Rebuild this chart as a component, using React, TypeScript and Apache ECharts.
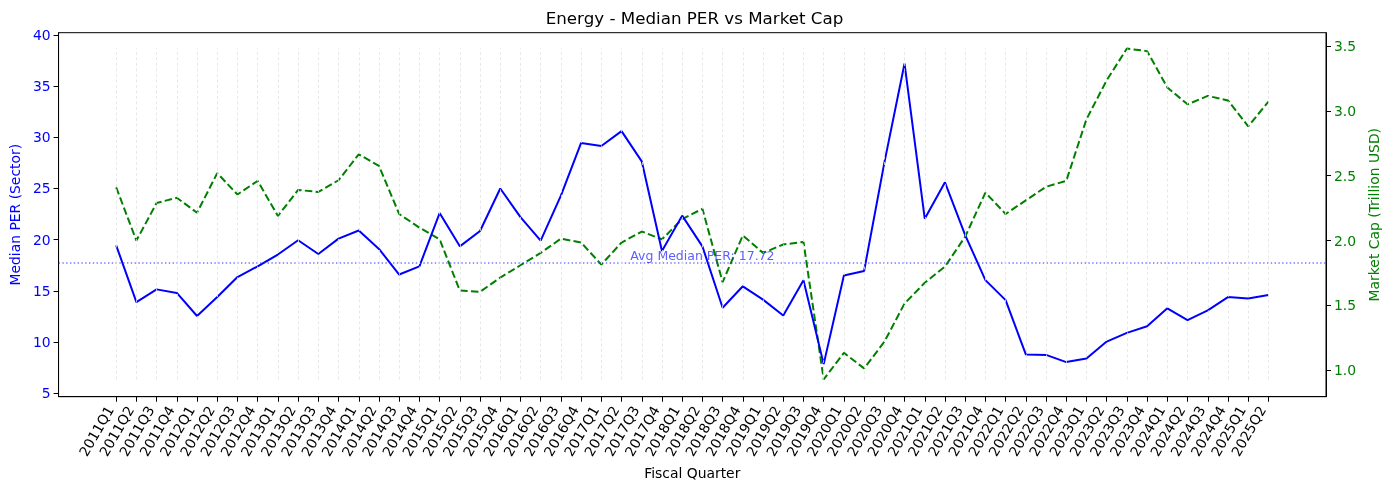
import React, { useEffect, useRef } from "react";
import * as echarts from "echarts";

const quarters: string[] = [];
for (let y = 2011; y <= 2025; y++) {
  for (let q = 1; q <= 4; q++) {
    if (y === 2025 && q > 2) break;
    quarters.push(`${y}Q${q}`);
  }
}

const medianPER = [
  19.45, 13.9, 15.15, 14.8, 12.55, 14.4, 16.35, 17.4, 18.55, 19.95,
  18.6, 20.1, 20.9, 19.1, 16.6, 17.4, 22.6, 19.35, 20.85, 25.0,
  22.2, 19.9, 24.3, 29.45, 29.15, 30.6, 27.65, 18.9, 22.35, 19.35,
  13.35, 15.45, 14.15, 12.6, 16.05, 7.85, 16.5, 16.95, 27.5, 37.2,
  22.05, 25.6, 20.45, 16.05, 14.1, 8.8, 8.75, 8.05, 8.4, 10.05,
  10.9, 11.55, 13.3, 12.15, 13.1, 14.4, 14.25, 14.6,
];

const marketCap = [
  2.41, 2.0, 2.29, 2.33, 2.215, 2.52, 2.355, 2.46, 2.19, 2.39,
  2.375, 2.465, 2.665, 2.575, 2.205, 2.1, 2.01, 1.615, 1.605, 1.715,
  1.81, 1.905, 2.015, 1.985, 1.815, 1.985, 2.07, 2.01, 2.165, 2.245,
  1.68, 2.04, 1.905, 1.97, 1.99, 0.93, 1.135, 1.015, 1.22, 1.515,
  1.675, 1.8, 2.03, 2.37, 2.205, 2.31, 2.415, 2.46, 2.935, 3.235,
  3.48, 3.46, 3.18, 3.05, 3.115, 3.08, 2.88, 3.07,
];

const avgPER = 17.72;
const perTicks = [5, 10, 15, 20, 25, 30, 35, 40];
const capTicks = [1.0, 1.5, 2.0, 2.5, 3.0, 3.5];

const FONT = "DejaVu Sans";

export default function App() {
  const ref = useRef<HTMLDivElement>(null);
  useEffect(() => {
    if (!ref.current) return;
    const chart = echarts.init(ref.current, undefined, { renderer: "svg" });
    const idx = quarters.map((_, i) => i);
    const n = quarters.length - 1;
    const xMin = -0.05 * n;
    const xMax = n * 1.05;
    const capMin = Math.min(...marketCap);
    const capMax = Math.max(...marketCap);
    chart.setOption({
      animation: false,
      textStyle: { fontFamily: FONT },
      title: {
        text: "Energy - Median PER vs Market Cap",
        left: "center",
        top: 4,
        textStyle: { fontFamily: FONT, fontSize: 16.7, fontWeight: "normal", color: "#000" },
      },
      grid: {
        left: 57.7,
        right: 59.7,
        top: 32.7,
        bottom: 93.3,
        show: true,
        borderColor: "#000",
        borderWidth: 1,
        backgroundColor: "transparent",
      },
      xAxis: {
        type: "value",
        min: xMin,
        max: xMax,
        name: "Fiscal Quarter",
        nameLocation: "middle",
        nameGap: 69,
        nameTextStyle: { fontFamily: FONT, fontSize: 13.9, color: "#000" },
        axisLine: { show: true, onZero: false, lineStyle: { color: "#000", width: 1 } },
        axisTick: { show: true, customValues: idx, length: 5, lineStyle: { color: "#000" } },
        axisLabel: {
          customValues: idx,
          rotate: 60,
          margin: 14,
          verticalAlign: "bottom",
          fontFamily: FONT,
          fontSize: 13.9,
          color: "#000",
          formatter: (v: number) => quarters[Math.round(v)] ?? "",
        },
        splitLine: { show: false },
      },
      yAxis: [
        {
          type: "value",
          min: 4.67,
          max: 40.21,
          position: "left",
          name: "Median PER (Sector)",
          nameLocation: "middle",
          nameGap: 33,
          nameTextStyle: { fontFamily: FONT, fontSize: 13.9, color: "blue" },
          axisLine: { show: true, onZero: false, lineStyle: { color: "#000" } },
          axisTick: { show: true, customValues: perTicks, length: 5, lineStyle: { color: "#000" } },
          axisLabel: {
            customValues: perTicks,
            margin: 8,
            fontFamily: FONT,
            fontSize: 13.9,
            color: "blue",
            formatter: (v: number) => String(v),
          },
          splitLine: { show: false },
        },
        {
          type: "value",
          min: 0.797,
          max: 3.602,
          position: "right",
          name: "Market Cap (Trillion USD)",
          nameLocation: "middle",
          nameGap: 36,
          nameTextStyle: { fontFamily: FONT, fontSize: 13.9, color: "green" },
          axisLine: { show: true, onZero: false, lineStyle: { color: "#000" } },
          axisTick: { show: true, customValues: capTicks, length: 5, lineStyle: { color: "#000" } },
          axisLabel: {
            customValues: capTicks,
            margin: 8,
            fontFamily: FONT,
            fontSize: 13.9,
            color: "green",
            formatter: (v: number) => v.toFixed(1),
          },
          splitLine: { show: false },
        },
      ],
      series: [
        {
          type: "line",
          name: "grid",
          yAxisIndex: 1,
          data: [],
          silent: true,
          z: 1,
          markLine: {
            silent: true,
            symbol: ["none", "none"],
            label: { show: false },
            lineStyle: { color: "#e2e2e2", type: [3, 2.5], width: 0.8 },
            emphasis: { disabled: true },
            data: idx.map((i) => [
              { coord: [i, capMin] },
              { coord: [i, capMax] },
            ]),
          },
        },
        {
          type: "line",
          name: "Median PER",
          yAxisIndex: 0,
          data: medianPER.map((v, i) => [i, v]),
          showSymbol: false,
          symbol: "none",
          color: "blue",
          lineStyle: { color: "blue", width: 2 },
          z: 3,
        },
        {
          type: "line",
          name: "avg",
          yAxisIndex: 0,
          data: [
            [xMin, avgPER],
            [xMax, avgPER],
          ],
          silent: true,
          showSymbol: false,
          symbol: "none",
          color: "#3333ff",
          lineStyle: { color: "#3333ff", width: 1.1, type: [1.4, 2.4] },
          z: 4,
          markPoint: {
            silent: true,
            symbol: "circle",
            symbolSize: 0,
            label: {
              show: true,
              position: "top",
              distance: 1,
              fontFamily: FONT,
              fontSize: 12.5,
              color: "rgba(40,40,255,0.75)",
              formatter: `Avg Median PER: ${avgPER.toFixed(2)}`,
            },
            data: [{ coord: [Math.floor(quarters.length / 2), avgPER] }],
          },
        },
        {
          type: "line",
          name: "Market Cap",
          yAxisIndex: 1,
          data: marketCap.map((v, i) => [i, v]),
          showSymbol: false,
          symbol: "none",
          color: "green",
          lineStyle: { color: "green", width: 2, type: [7.5, 3.3] },
          z: 2,
        },
      ],
    });
    return () => chart.dispose();
  }, []);
  return (
    <div
      ref={ref}
      style={{ position: "fixed", left: 0, top: 0, width: 1389, height: 490 }}
    />
  );
}
